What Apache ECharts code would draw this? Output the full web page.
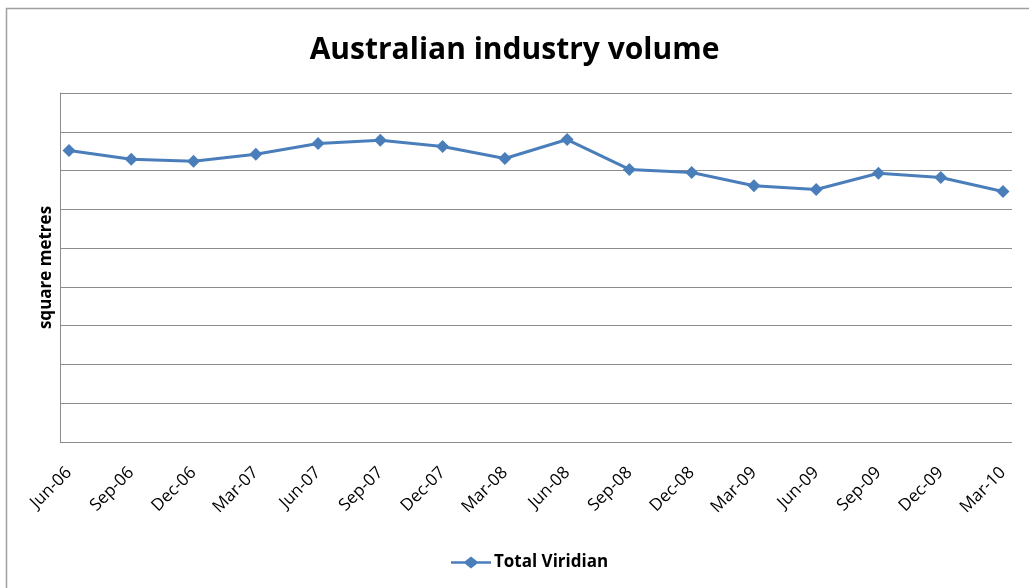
<!DOCTYPE html>
<html><head><meta charset="utf-8">
<script src="https://cdn.jsdelivr.net/npm/echarts@6/dist/echarts.min.js"></script>
<style>html,body{margin:0;padding:0;background:#fff}#c{width:1029px;height:588px}</style>
</head><body><div id="c"></div>
<script>
const categories = ['Jun-06','Sep-06','Dec-06','Mar-07','Jun-07','Sep-07','Dec-07','Mar-08','Jun-08','Sep-08','Dec-08','Mar-09','Jun-09','Sep-09','Dec-09','Mar-10'];
const totalViridian = [7.52,7.29,7.24,7.42,7.70,7.78,7.62,7.31,7.80,7.03,6.95,6.61,6.51,6.93,6.82,6.46];
const yMin = 0, yMax = 9, yInterval = 1;
const blue = '#4A7EBB';
const font = '"Open Sans", "DejaVu Sans", sans-serif';
const chart = echarts.init(document.getElementById('c'));
chart.setOption({
  animation: false,
  title: {text: 'Australian industry volume', left: 'center', top: 30,
    textStyle: {fontFamily: font, fontSize: 30, fontWeight: 'bold', color: '#000'}},
  legend: {bottom: 12, left: 446, itemWidth: 40, itemHeight: 12, itemGap: 4,
    textStyle: {fontFamily: font, fontSize: 17, fontWeight: 'bold', color: '#000', padding: [0,0,0,-2]},
    data: [{name: 'Total Viridian', icon: 'path://M0,4.8 L14,4.8 L20,0 L26,4.8 L40,4.8 L40,7.2 L26,7.2 L20,12 L14,7.2 L0,7.2 Z'}]},
  graphic: [{type: 'rect', shape: {x: 6.5, y: 8.5, width: 1040, height: 600}, style: {fill: 'none', stroke: '#a0a0a0', lineWidth: 1.5}, silent: true}],
  grid: [
    {left: 60, right: 17, top: 93, bottom: 146},
    {left: 69, right: 26, top: 93, bottom: 146}
  ],
  xAxis: [
    {gridIndex: 0, type: 'value', min: 0, max: 1, show: true,
      axisLine: {show: false}, axisTick: {show: false}, axisLabel: {show: false}, splitLine: {show: false}},
    {gridIndex: 1, type: 'category', data: categories, boundaryGap: false,
      axisLine: {show: false}, axisTick: {show: false},
      axisLabel: {rotate: 45, margin: 28, fontFamily: font, fontSize: 17, color: '#000', interval: 0}}
  ],
  yAxis: [
    {gridIndex: 0, type: 'value', min: yMin, max: yMax, interval: yInterval,
      name: 'square metres', nameLocation: 'middle', nameGap: 5, nameRotate: 90,
      nameTextStyle: {fontFamily: font, fontSize: 17, fontWeight: 'bold', color: '#000'},
      axisLine: {show: true, lineStyle: {color: '#8c8c8c', width: 1}}, axisTick: {show: false}, axisLabel: {show: false},
      splitLine: {show: true, lineStyle: {color: '#8c8c8c', width: 1}}},
    {gridIndex: 1, type: 'value', min: yMin, max: yMax, interval: yInterval, show: false, splitLine: {show: false}}
  ],
  series: [{
    name: 'Total Viridian', type: 'line', xAxisIndex: 1, yAxisIndex: 1, data: totalViridian,
    symbol: 'diamond', symbolSize: 13,
    lineStyle: {color: blue, width: 3}, itemStyle: {color: blue}
  }]
});
</script></body></html>
